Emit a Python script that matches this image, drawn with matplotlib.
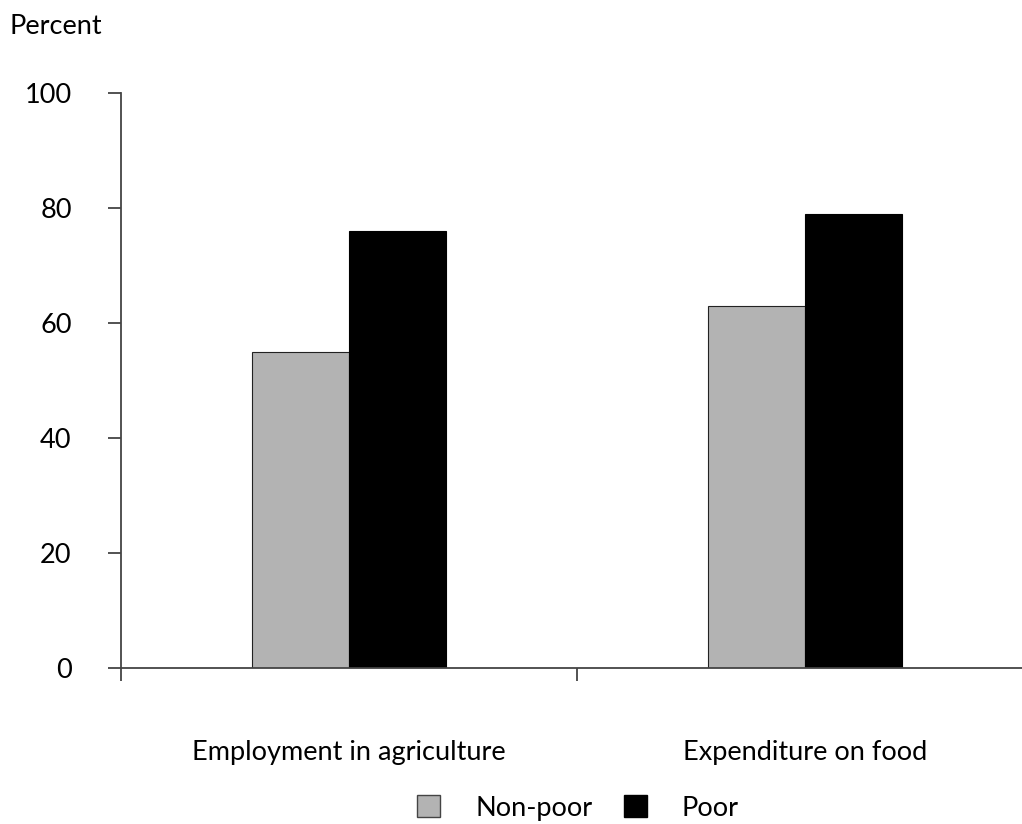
import numpy as np
import matplotlib
matplotlib.use('Agg')
import matplotlib.pyplot as plt
from matplotlib.patches import Patch

categories = ['Employment in agriculture', 'Expenditure on food']
non_poor = [55, 63]
poor = [76, 79]
yticks = [0, 20, 40, 60, 80, 100]

plt.rcParams['font.family'] = ['Lato', 'DejaVu Sans']

W, H = 1022, 824
fig = plt.figure(figsize=(W / 100, H / 100), dpi=100)
ax = fig.add_axes([121 / W, 1 - 668 / H, (W - 121) / W, (668 - 93) / H])

x = np.arange(len(categories)) + 0.5
bw = 0.212
ax.bar(x - bw / 2, non_poor, width=bw, color='#b3b3b3', edgecolor='#222222', linewidth=0.8)
ax.bar(x + bw / 2, poor, width=bw, color='black', edgecolor='black', linewidth=0.8)

ax.set_ylim(0, 100)
ax.set_xlim(0, (W - 121) / 456)
ax.set_yticks(yticks)
ax.set_xticks([0, 1])
ax.set_xticklabels([])
ax.set_xticks(x, minor=True)
ax.set_xticklabels(categories, minor=True)

for s in ['top', 'right']:
    ax.spines[s].set_visible(False)
for s in ['left', 'bottom']:
    ax.spines[s].set_color('#444444')
    ax.spines[s].set_linewidth(1.3)

ax.tick_params(axis='y', length=9.5, width=1.3, color='#444444', pad=26, labelsize=19.5)
ax.tick_params(axis='x', which='major', length=9.5, width=1.3, color='#444444')
ax.tick_params(axis='x', which='minor', length=0, pad=52, labelsize=19.5)

fig.text(9 / W, 1 - 27 / H, 'Percent', fontsize=19.5, va='center', ha='left')

handles = [Patch(facecolor='#b3b3b3', edgecolor='#444444', label='Non-poor'),
           Patch(facecolor='black', edgecolor='black', label='Poor')]
fig.legend(handles=handles, loc='center', bbox_to_anchor=(578 / W, 1 - 808 / H), ncol=2,
           frameon=False, fontsize=19.5, handlelength=0.85, handleheight=0.85,
           handletextpad=1.3, columnspacing=1.15)

fig.savefig('out.png', dpi=100, facecolor='white')
